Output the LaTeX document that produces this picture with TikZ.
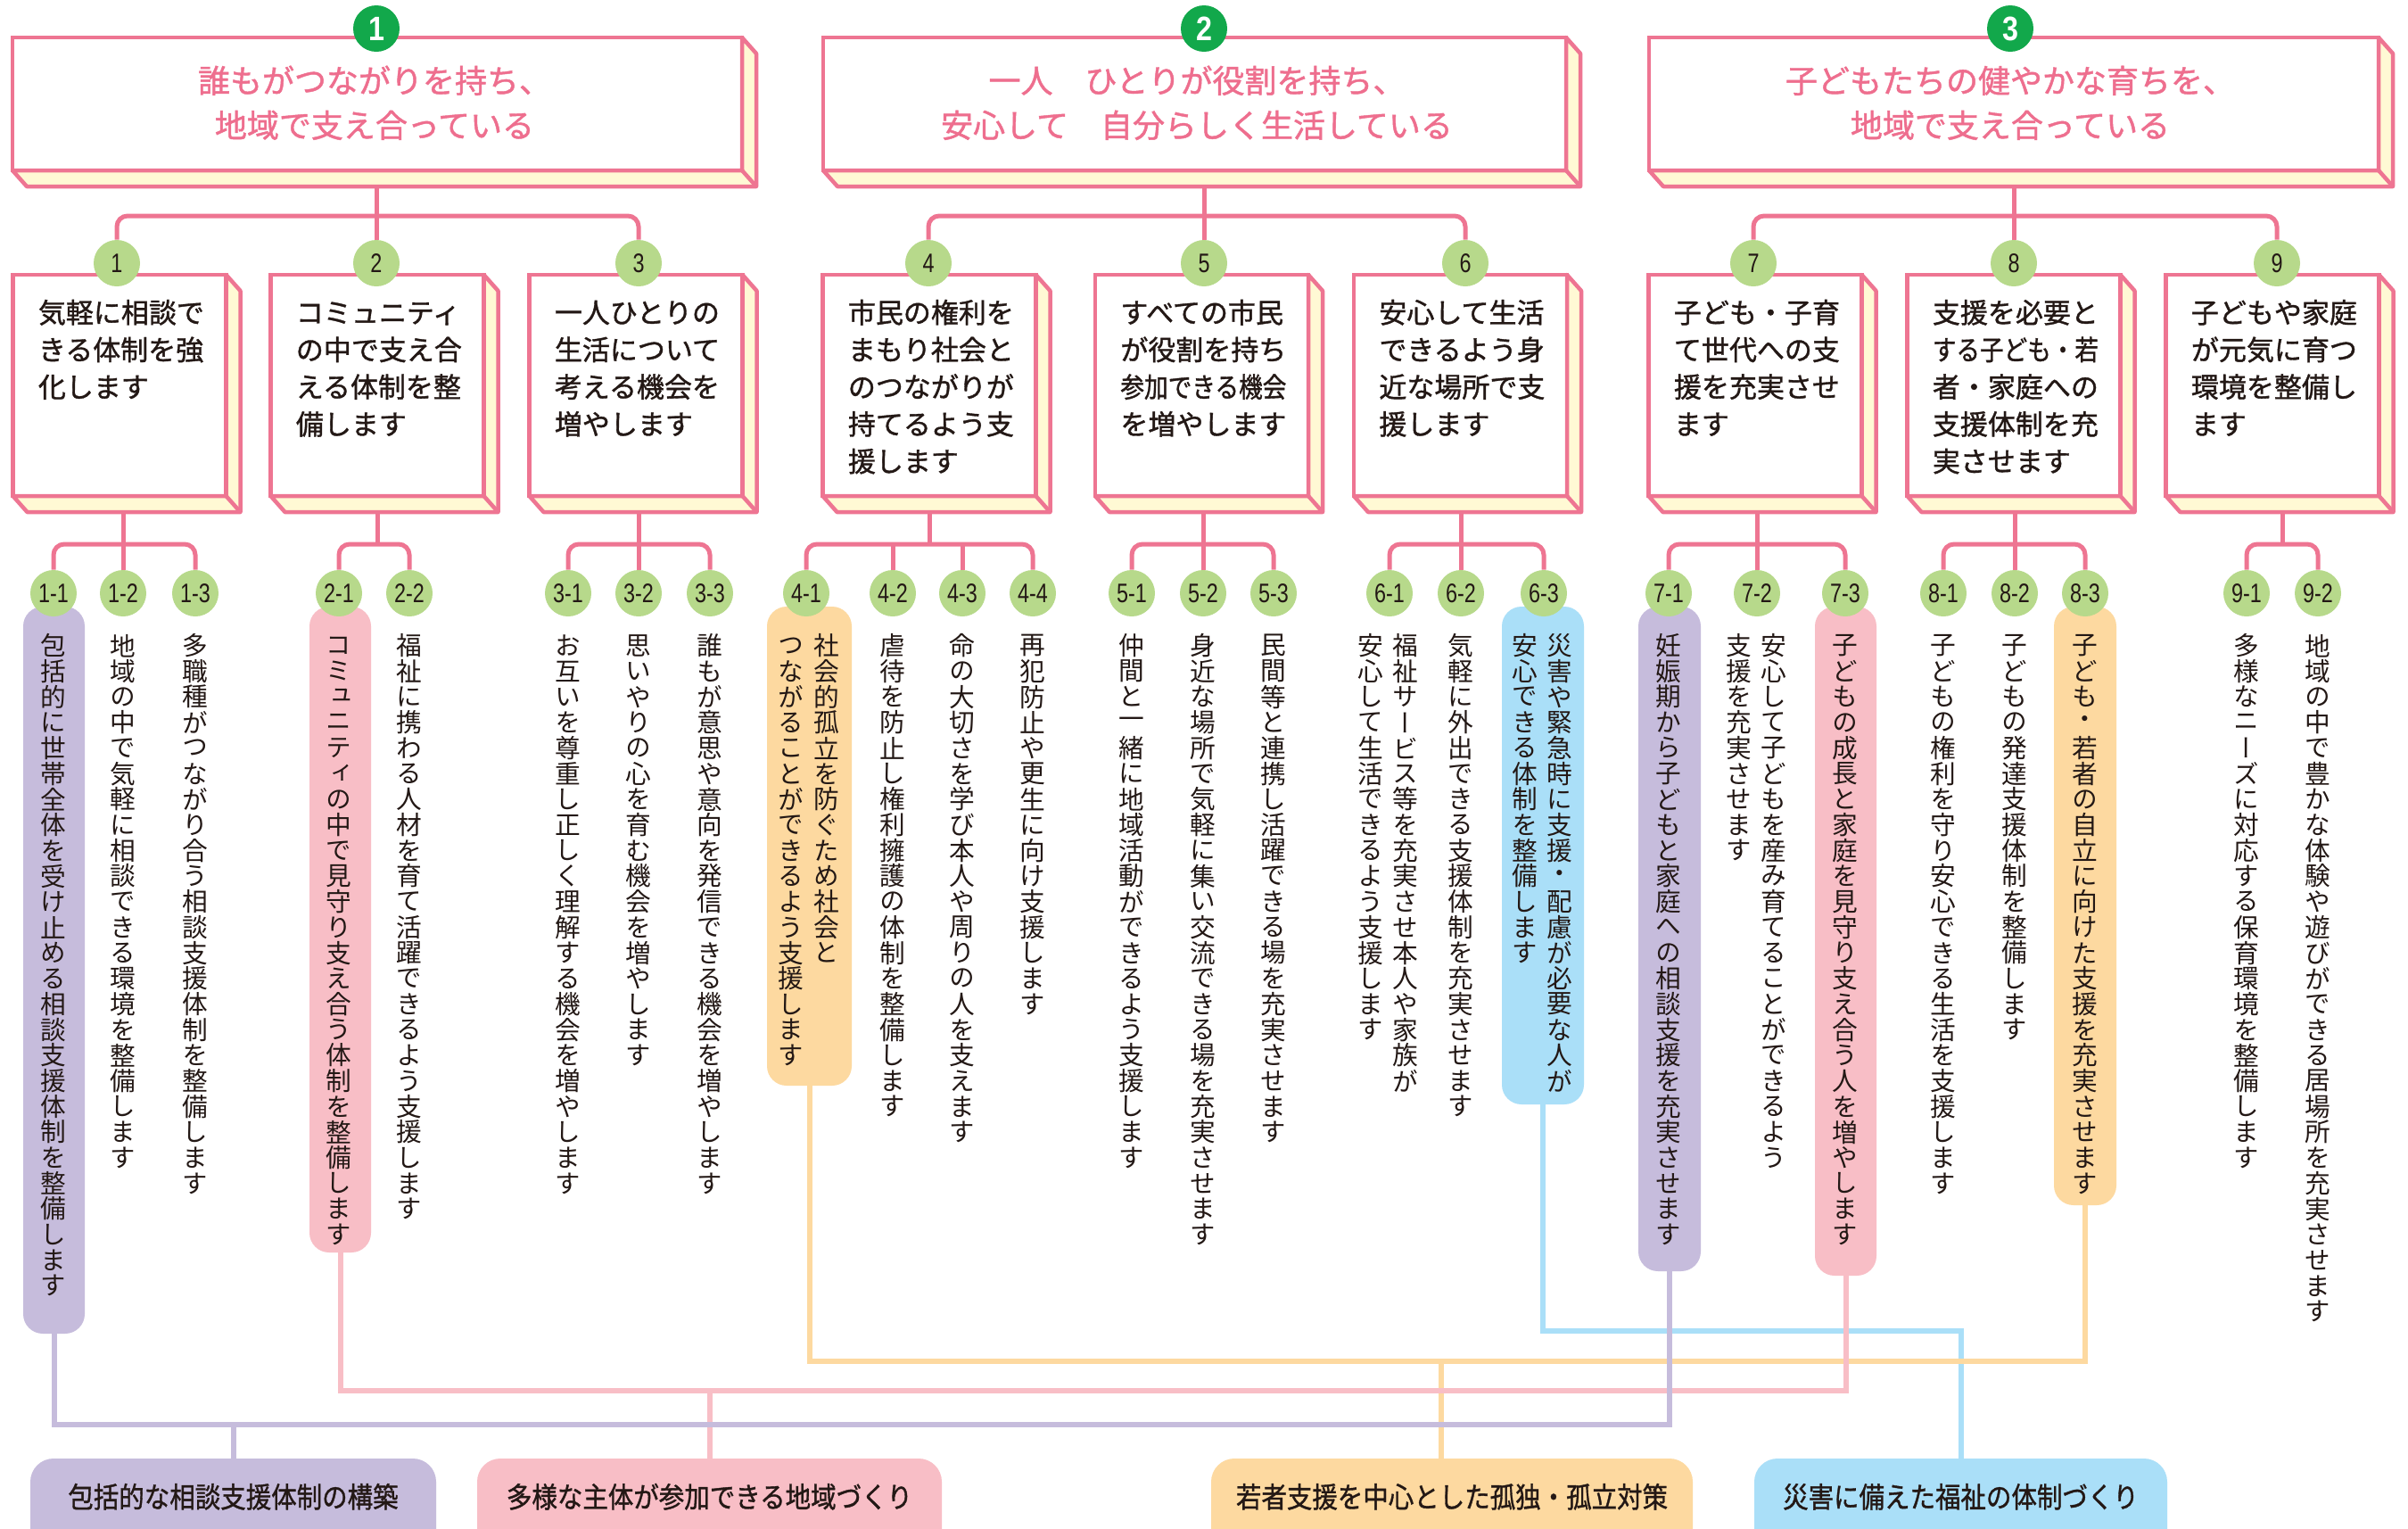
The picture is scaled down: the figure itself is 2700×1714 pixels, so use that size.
\documentclass[tikz,border=0pt]{standalone}
\usepackage{fontspec}
\usepackage{graphicx}
\setmainfont{Noto Sans CJK JP}
\newfontfamily\jpv{Noto Sans CJK JP}[RawFeature=+vert]
\newfontfamily\jpb{Noto Sans CJK JP}[FakeBold=1.2]
\newfontfamily\numf{Liberation Sans}
\usetikzlibrary{calc}

\definecolor{pk}{HTML}{EE7592}
\definecolor{pktxt}{HTML}{EE6E8E}
\definecolor{cream}{HTML}{FFF9D4}
\definecolor{dg}{HTML}{12A84B}
\definecolor{lg}{HTML}{B7D98B}
\definecolor{pu}{HTML}{C6BCDC}
\definecolor{pi}{HTML}{F8BEC6}
\definecolor{orc}{HTML}{FDD9A0}
\definecolor{bl}{HTML}{AADFF8}
\definecolor{tx}{HTML}{231815}

\newdimen\vtp
\vtp=14.35pt
\ExplSyntaxOn
\NewDocumentCommand\vt{m}
 {
  \vbox
   {
    \offinterlineskip
    \tl_map_inline:nn {#1}
     {
      \hbox_to_wd:nn {\vtp} { \hss \vbox_to_ht:nn {\vtp} { \vss \hbox:n {##1} \vss } \hss }
     }
   }
 }
\ExplSyntaxOff

\newcommand\nmf[1]{\scalebox{0.78}[1]{#1}}
\newcommand\bgn[1]{\scalebox{0.85}[1]{\bfseries #1}}
\newcommand\kt[1]{\scalebox{0.89}[1]{#1}}

\tikzset{
 front/.style={draw=pk, line width=2.25pt, fill=white, rectangle, inner sep=0pt, outer sep=0pt},
 extr/.style={draw=pk, line width=2.25pt, fill=cream, line join=round},
 bign/.style={circle, fill=dg, inner sep=0pt, minimum size=26pt, text=white, font=\numf\fontsize{19pt}{19pt}\selectfont},
 numc/.style={circle, fill=lg, inner sep=0pt, minimum size=26pt, text=tx, font=\numf\fontsize{15pt}{15pt}\selectfont},
 treeln/.style={draw=pk, line width=2.5pt, rounded corners=6pt},
 ttl/.style={anchor=base, text=pktxt, inner sep=0pt, font=\jpb\fontsize{18pt}{18pt}\selectfont},
 bt/.style={anchor=base west, text=tx, inner sep=0pt, font=\jpb\fontsize{15.5pt}{15.5pt}\selectfont},
 vtx/.style={anchor=north, text=tx, inner sep=0pt, font=\jpv\fontsize{14.35pt}{14.35pt}\selectfont},
 pill/.style={rectangle, rounded corners=11pt, inner sep=0pt, outer sep=0pt},
 conn/.style={line width=3pt},
 kbox/.style={rectangle, rounded corners=13pt, inner sep=0pt, outer sep=0pt, minimum height=67.5pt},
 ktx/.style={anchor=base, text=tx, inner sep=0pt, font=\jpb\fontsize{16pt}{16pt}\selectfont},
}

\newcommand\mkext[1]{%
 \filldraw[extr] (#1.north east) -- ([shift={(16,18)}]#1.north east) -- ([shift={(16,18)}]#1.south east) -- ([shift={(16,18)}]#1.south west) -- (#1.south west) -- (#1.south east) -- cycle;
 \draw[extr,fill=none] (#1.south east) -- ([shift={(16,18)}]#1.south east);
 \coordinate (#1b) at ([shift={(0,18)}]#1.south);
}
\newcommand\smbox[3]{%
 \node[front, minimum width=119.5pt, minimum height=124pt] (#1) at (#2,432) {};
 \mkext{#1}
 \foreach \lineT [count=\i from 0] in {#3}
   \node[bt] (#1l\i) at ($(#1.north west)+(28,{54+41.7*\i})$) {\lineT};
}

\begin{document}
\begin{tikzpicture}[x=0.5pt,y=-0.5pt]
\useasboundingbox (0,0) rectangle (2700,1714);
\clip (0,0) rectangle (2700,1714);
\fill[white] (0,0) rectangle (2700,1714);

% ---------- top boxes ----------
\node[front, minimum width=409pt, minimum height=74.5pt] (T1) at (423,116.5) {};
\mkext{T1}
\node[ttl] (T1x) at (420,104) {誰もがつながりを持ち、};
\node[ttl] (T1y) at (420,154) {地域で支え合っている};

\node[front, minimum width=416.5pt, minimum height=74.5pt] (T2) at (1339.5,116.5) {};
\mkext{T2}
\node[ttl] (T2x) at (1342,104) {一人　ひとりが役割を持ち、};
\node[ttl] (T2y) at (1342,154) {安心して　自分らしく生活している};

\node[front, minimum width=409pt, minimum height=74.5pt] (T3) at (2258,116.5) {};
\mkext{T3}
\node[ttl] (T3x) at (2254,104) {子どもたちの健やかな育ちを、};
\node[ttl] (T3y) at (2254,154) {地域で支え合っている};

\node[bign] (g1) at (422,32) {\bgn{1}};
\node[bign] (g2) at (1350,32) {\bgn{2}};
\node[bign] (g3) at (2254,32) {\bgn{3}};

% ---------- small boxes ----------
\smbox{B1}{134}{気軽に相談で, きる体制を強, 化します}
\smbox{B2}{423}{コミュニティ, の中で支え合, える体制を整, 備します}
\smbox{B3}{713}{一人ひとりの, 生活について, 考える機会を, 増やします}
\smbox{B4}{1042}{市民の権利を, まもり社会と, のつながりが, 持てるよう支, 援します}
\smbox{B5}{1347.5}{すべての市民, が役割を持ち, \resizebox{93pt}{\height}{参加できる機会}, を増やします}
\smbox{B6}{1637.5}{安心して生活, できるよう身, 近な場所で支, 援します}
\smbox{B7}{1968}{子ども・子育, て世代への支, 援を充実させ, ます}
\smbox{B8}{2258}{支援を必要と, \resizebox{93pt}{\height}{する子ども・若}, 者・家庭への, 支援体制を充, 実させます}
\smbox{B9}{2548}{子どもや家庭, が元気に育つ, 環境を整備し, ます}

% mid circles
\node[numc] (n1) at (131,295) {\nmf{1}};
\node[numc] (n2) at (422,295) {\nmf{2}};
\node[numc] (n3) at (716,295) {\nmf{3}};
\node[numc] (n4) at (1041,295) {\nmf{4}};
\node[numc] (n5) at (1350,295) {\nmf{5}};
\node[numc] (n6) at (1643,295) {\nmf{6}};
\node[numc] (n7) at (1966,295) {\nmf{7}};
\node[numc] (n8) at (2258,295) {\nmf{8}};
\node[numc] (n9) at (2553,295) {\nmf{9}};

% top trees
\coordinate (ya) at (0,242);
\draw[treeln] (n1.north) -- (n1 |- ya) -- (n3 |- ya) -- (n3.north);
\draw[treeln] (n2 |- T1b) -- (n2.north);
\draw[treeln] (n4.north) -- (n4 |- ya) -- (n6 |- ya) -- (n6.north);
\draw[treeln] (n5 |- T2b) -- (n5.north);
\draw[treeln] (n7.north) -- (n7 |- ya) -- (n9 |- ya) -- (n9.north);
\draw[treeln] (n8 |- T3b) -- (n8.north);

% ---------- pills ----------
\node[pill, fill=pu, minimum width=34.5pt, minimum height=407.5pt] (p11) at (60.5,1087.5) {};
\node[pill, fill=pi, minimum width=34.5pt, minimum height=362pt] (p21) at (381.5,1042) {};
\node[pill, fill=orc, minimum width=47.5pt, minimum height=268.5pt] (p41) at (907.5,948.5) {};
\node[pill, fill=bl, minimum width=46pt, minimum height=279pt] (p63) at (1730,959) {};
\node[pill, fill=pu, minimum width=35pt, minimum height=372.5pt] (p71) at (1872,1052.5) {};
\node[pill, fill=pi, minimum width=34.5pt, minimum height=375pt] (p73) at (2069.5,1055) {};
\node[pill, fill=orc, minimum width=35pt, minimum height=335.5pt] (p83) at (2338,1015.5) {};

% sub circles
\foreach \nn/\x/\lab in {s11/60/1-1, s12/138/1-2, s13/219/1-3, s21/380/2-1, s22/459/2-2,
  s31/637/3-1, s32/716/3-2, s33/796/3-3, s41/904/4-1, s42/1001/4-2, s43/1079/4-3, s44/1158/4-4,
  s51/1269/5-1, s52/1349/5-2, s53/1428/5-3, s61/1558/6-1, s62/1638/6-2, s63/1731/6-3,
  s71/1871/7-1, s72/1970/7-2, s73/2069/7-3, s81/2179/8-1, s82/2259/8-2, s83/2338/8-3,
  s91/2519/9-1, s92/2599/9-2}
  \node[numc] (\nn) at (\x,665) {\nmf{\lab}};

% sub trees
\coordinate (yb) at (0,610);
\draw[treeln] (s11.north) -- (s11 |- yb) -- (s13 |- yb) -- (s13.north);
\draw[treeln] (s12 |- B1b) -- (s12.north);
\draw[treeln] (s21.north) -- (s21 |- yb) -- (s22 |- yb) -- (s22.north);
\draw[treeln] (B2b) -- (B2b |- yb);
\draw[treeln] (s31.north) -- (s31 |- yb) -- (s33 |- yb) -- (s33.north);
\draw[treeln] (s32 |- B3b) -- (s32.north);
\draw[treeln] (s41.north) -- (s41 |- yb) -- (s44 |- yb) -- (s44.north);
\draw[treeln] (s42 |- yb) -- (s42.north);
\draw[treeln] (s43 |- yb) -- (s43.north);
\draw[treeln] (B4b) -- (B4b |- yb);
\draw[treeln] (s51.north) -- (s51 |- yb) -- (s53 |- yb) -- (s53.north);
\draw[treeln] (s52 |- B5b) -- (s52.north);
\draw[treeln] (s61.north) -- (s61 |- yb) -- (s63 |- yb) -- (s63.north);
\draw[treeln] (s62 |- B6b) -- (s62.north);
\draw[treeln] (s71.north) -- (s71 |- yb) -- (s73 |- yb) -- (s73.north);
\draw[treeln] (s72 |- B7b) -- (s72.north);
\draw[treeln] (s81.north) -- (s81 |- yb) -- (s83 |- yb) -- (s83.north);
\draw[treeln] (s82 |- B8b) -- (s82.north);
\coordinate (m9) at ($(s91)!0.5!(s92)$);
\draw[treeln] (s91.north) -- (s91 |- yb) -- (s92 |- yb) -- (s92.north);
\draw[treeln] (m9 |- B9b) -- (m9 |- yb);

% ---------- vertical texts ----------
\node[vtx] (v11) at (60,709) {\vt{包括的に世帯全体を受け止める相談支援体制を整備します}};
\node[vtx] (v12) at (138,709) {\vt{地域の中で気軽に相談できる環境を整備します}};
\node[vtx] (v13) at (219,709) {\vt{多職種がつながり合う相談支援体制を整備します}};
\node[vtx] (v21) at (380,709) {\vt{コミュニティの中で見守り支え合う体制を整備します}};
\node[vtx] (v22) at (459,709) {\vt{福祉に携わる人材を育て活躍できるよう支援します}};
\node[vtx] (v31) at (637,709) {\vt{お互いを尊重し正しく理解する機会を増やします}};
\node[vtx] (v32) at (716,709) {\vt{思いやりの心を育む機会を増やします}};
\node[vtx] (v33) at (796,709) {\vt{誰もが意思や意向を発信できる機会を増やします}};
\node[vtx] (v41a) at (927,709) {\vt{社会的孤立を防ぐため社会と}};
\node[vtx] (v41b) at (887,709) {\vt{つながることができるよう支援します}};
\node[vtx] (v42) at (1001,709) {\vt{虐待を防止し権利擁護の体制を整備します}};
\node[vtx] (v43) at (1079,709) {\vt{命の大切さを学び本人や周りの人を支えます}};
\node[vtx] (v44) at (1158,709) {\vt{再犯防止や更生に向け支援します}};
\node[vtx] (v51) at (1269,709) {\vt{仲間と一緒に地域活動ができるよう支援します}};
\node[vtx] (v52) at (1349,709) {\vt{身近な場所で気軽に集い交流できる場を充実させます}};
\node[vtx] (v53) at (1428,709) {\vt{民間等と連携し活躍できる場を充実させます}};
\node[vtx] (v61a) at (1576,709) {\vt{福祉サービス等を充実させ本人や家族が}};
\node[vtx] (v61b) at (1537,709) {\vt{安心して生活できるよう支援します}};
\node[vtx] (v62) at (1638,709) {\vt{気軽に外出できる支援体制を充実させます}};
\node[vtx] (v63a) at (1749,709) {\vt{災害や緊急時に支援・配慮が必要な人が}};
\node[vtx] (v63b) at (1710,709) {\vt{安心できる体制を整備します}};
\node[vtx] (v71) at (1871,709) {\vt{妊娠期から子どもと家庭への相談支援を充実させます}};
\node[vtx] (v72a) at (1989,709) {\vt{安心して子どもを産み育てることができるよう}};
\node[vtx] (v72b) at (1950,709) {\vt{支援を充実させます}};
\node[vtx] (v73) at (2069,709) {\vt{子どもの成長と家庭を見守り支え合う人を増やします}};
\node[vtx] (v81) at (2179,709) {\vt{子どもの権利を守り安心できる生活を支援します}};
\node[vtx] (v82) at (2259,709) {\vt{子どもの発達支援体制を整備します}};
\node[vtx] (v83) at (2338,709) {\vt{子ども・若者の自立に向けた支援を充実させます}};
\node[vtx] (v91) at (2519,709) {\vt{多様なニーズに対応する保育環境を整備します}};
\node[vtx] (v92) at (2599,709) {\vt{地域の中で豊かな体験や遊びができる居場所を充実させます}};

% ---------- bottom boxes ----------
\node[kbox, fill=pu, minimum width=227.5pt] (k1) at (261.5,1702.5) {};
\node[kbox, fill=pi, minimum width=260.5pt] (k2) at (795.5,1702.5) {};
\node[kbox, fill=orc, minimum width=270pt] (k3) at (1628,1702.5) {};
\node[kbox, fill=bl, minimum width=231.5pt] (k4) at (2198.5,1702.5) {};
\node[ktx] (k1t) at (261.5,1690) {\kt{包括的な相談支援体制の構築}};
\node[ktx] (k2t) at (795.5,1690) {\kt{多様な主体が参加できる地域づくり}};
\node[ktx] (k3t) at (1628,1690) {\kt{若者支援を中心とした孤独・孤立対策}};
\node[ktx] (k4t) at (2198.5,1690) {\kt{災害に備えた福祉の体制づくり}};

% ---------- colored connectors ----------
\coordinate (ybl) at (0,1492);
\coordinate (yo) at (0,1526);
\coordinate (yq) at (0,1559);
\coordinate (yp) at (0,1597);
\coordinate (k3j) at (1616,1526);
\draw[conn, draw=bl] (p63.south) -- (p63.south |- ybl) -- (k4.north |- ybl) -- (k4.north);
\draw[conn, draw=orc] (p41.south) -- (p41.south |- yo) -- (p83.south |- yo) -- (p83.south);
\draw[conn, draw=orc] (k3j) -- (k3j |- k3.north);
\draw[conn, draw=pi] (p21.south) -- (p21.south |- yq) -- (p73.south |- yq) -- (p73.south);
\draw[conn, draw=pi] (k2.north) -- (k2.north |- yq);
\draw[conn, draw=pu] (p11.south) -- (p11.south |- yp) -- (p71.south |- yp) -- (p71.south);
\draw[conn, draw=pu] (k1.north) -- (k1.north |- yp);
\end{tikzpicture}
\end{document}
